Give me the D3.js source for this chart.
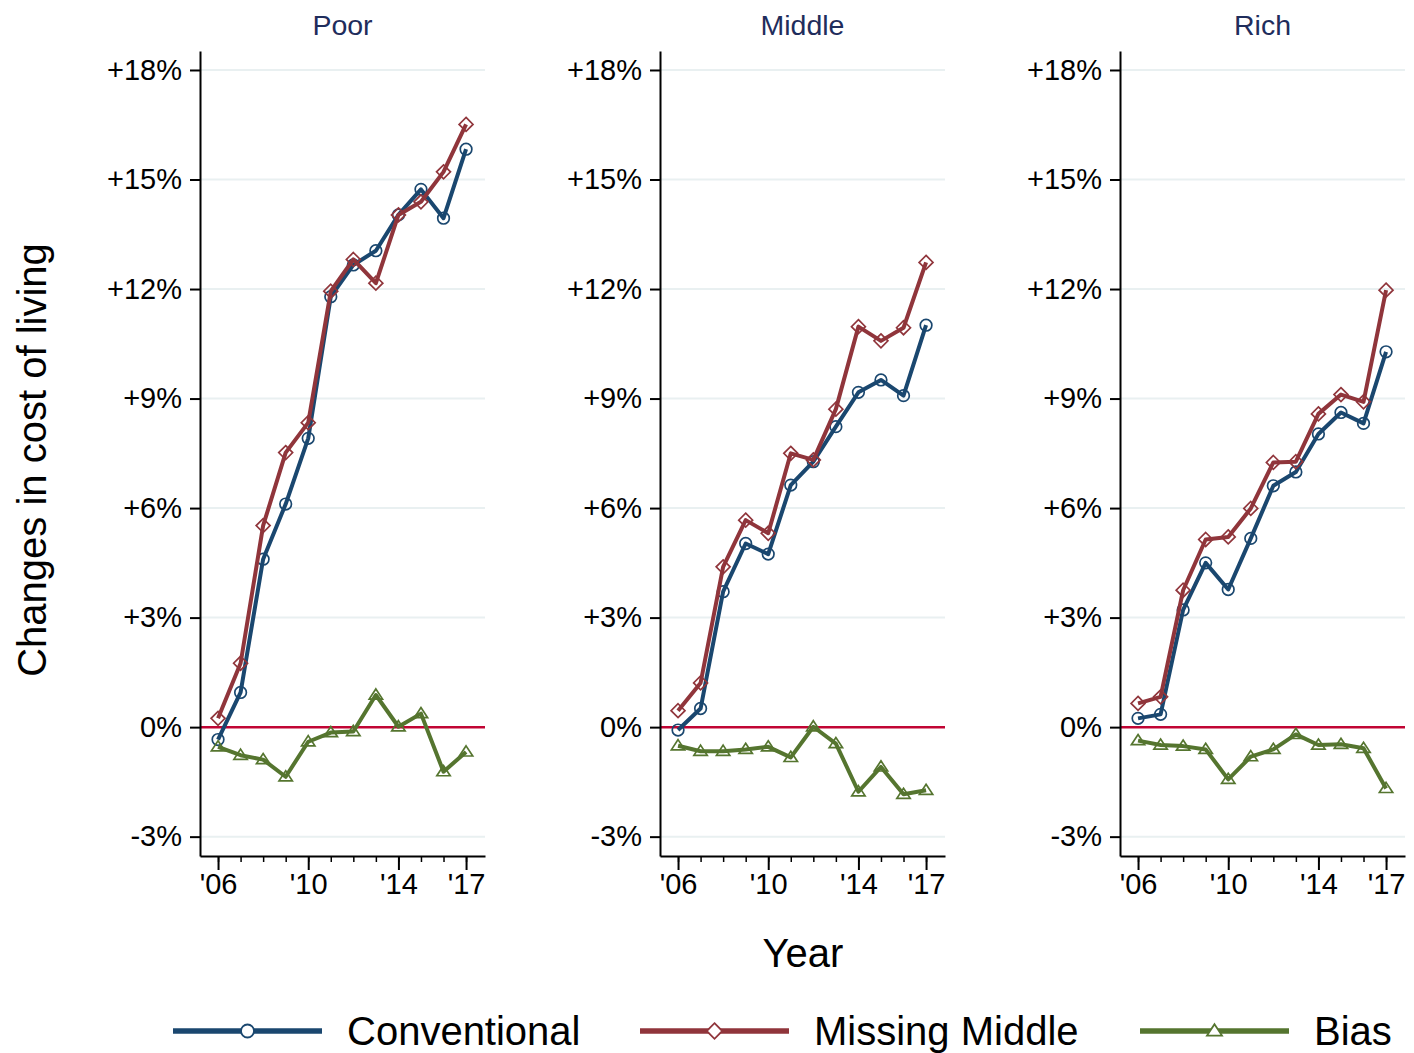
<!DOCTYPE html>
<html>
<head>
<meta charset="utf-8">
<script src="https://cdn.jsdelivr.net/npm/d3@7"></script>
<style>
  html, body { margin: 0; padding: 0; background: #ffffff; }
  svg { display: block; font-family: "Liberation Sans", Arial, Helvetica, sans-serif; }
</style>
</head>
<body>
<svg id="chart" width="1414" height="1053"></svg>
<script>
// Years on the x axis
const years = [2006, 2007, 2008, 2009, 2010, 2011, 2012, 2013, 2014, 2015, 2016, 2017];

// Panel names (income groups)
const groups = ["Poor", "Middle", "Rich"];

// Cumulative change in cost of living (%), by income group
const poorConventional = [-0.34, 0.95, 4.60, 6.11, 7.91, 11.79, 12.66, 13.05, 14.03, 14.73, 13.94, 15.83];
const poorMissingMiddle = [0.24, 1.75, 5.52, 7.52, 8.34, 11.94, 12.81, 12.16, 14.03, 14.39, 15.21, 16.51];
const poorBias = [-0.54, -0.77, -0.89, -1.36, -0.40, -0.15, -0.12, 0.88, 0.01, 0.37, -1.22, -0.68];

const middleConventional = [-0.08, 0.51, 3.71, 5.03, 4.74, 6.63, 7.27, 8.23, 9.17, 9.51, 9.08, 11.01];
const middleMissingMiddle = [0.45, 1.21, 4.39, 5.67, 5.31, 7.50, 7.32, 8.71, 10.97, 10.58, 10.94, 12.73];
const middleBias = [-0.51, -0.66, -0.66, -0.61, -0.54, -0.83, 0.01, -0.45, -1.77, -1.09, -1.84, -1.73];

const richConventional = [0.24, 0.35, 3.21, 4.50, 3.77, 5.17, 6.61, 6.99, 8.03, 8.62, 8.32, 10.28];
const richMissingMiddle = [0.65, 0.83, 3.75, 5.14, 5.21, 5.99, 7.25, 7.27, 8.58, 9.11, 8.91, 11.97];
const richBias = [-0.37, -0.49, -0.52, -0.61, -1.43, -0.81, -0.61, -0.20, -0.49, -0.47, -0.58, -1.68];

// Series names and axis ticks
const seriesNames = ["Conventional", "Missing Middle", "Bias"];
const yTicks = [-3, 0, 3, 6, 9, 12, 15, 18];
const xMajorTicks = [2006, 2010, 2014, 2017];

const panelData = [
  [poorConventional, poorMissingMiddle, poorBias],
  [middleConventional, middleMissingMiddle, middleBias],
  [richConventional, richMissingMiddle, richBias]
];

// Styling
const seriesColors = ["#1a476f", "#90353b", "#55752f"];
const markerTypes = ["circle", "diamond", "triangle"];
const gridColor = "#e9f0f1";
const zeroColor = "#c10534";
const titleColor = "#1f2d5c";
const fontMain = 29;

const svg = d3.select("#chart");

// Layout
const panelLeft = [200, 660, 1120];
const panelWidth = 285;
const plotTop = 51, plotBottom = 856;

const y = d3.scaleLinear().domain([-3.53, 18.52]).range([plotBottom, plotTop]);

function markerPath(type, size) {
  if (type === "circle") return d3.symbol().type(d3.symbolCircle).size(Math.PI * size * size)();
  if (type === "diamond") {
    const s = size * 1.2;
    return `M0,${-s}L${s},0L0,${s}L${-s},0Z`;
  }
  const h = size * 1.75, w = size * 1.15;
  return `M0,${-h * 0.6}L${w},${h * 0.4}L${-w},${h * 0.4}Z`;
}

const fmtY = v => (v > 0 ? "+" : "") + v + "%";
const fmtX = v => "'" + String(v).slice(2);

groups.forEach((name, gi) => {
  const left = panelLeft[gi];
  const x = d3.scaleLinear().domain([2005.2, 2017.84]).range([left, left + panelWidth]);
  const g = svg.append("g");

  // gridlines
  g.append("g").selectAll("line")
    .data(yTicks.filter(v => v !== 0))
    .join("line")
    .attr("x1", left).attr("x2", left + panelWidth)
    .attr("y1", d => y(d)).attr("y2", d => y(d))
    .attr("stroke", gridColor).attr("stroke-width", 2);

  // zero reference line
  g.append("line")
    .attr("x1", left).attr("x2", left + panelWidth)
    .attr("y1", y(0)).attr("y2", y(0))
    .attr("stroke", zeroColor).attr("stroke-width", 2.5);

  // y axis
  const yAxis = g.append("g")
    .attr("transform", `translate(${left},0)`)
    .call(d3.axisLeft(y).tickValues(yTicks).tickFormat(fmtY).tickSize(10).tickSizeOuter(0).tickPadding(8));
  yAxis.select(".domain").attr("stroke", "#000").attr("stroke-width", 2);
  yAxis.selectAll(".tick line").attr("stroke", "#000").attr("stroke-width", 2);
  yAxis.selectAll(".tick text").attr("font-size", fontMain).attr("fill", "#000")
    .attr("font-family", '"Liberation Sans", Arial, sans-serif');

  // x axis: minor yearly ticks
  const xMinor = g.append("g")
    .attr("transform", `translate(0,${plotBottom})`)
    .call(d3.axisBottom(x).tickValues(years).tickFormat("").tickSize(6).tickSizeOuter(0));
  xMinor.select(".domain").remove();
  xMinor.selectAll(".tick line").attr("stroke", "#000").attr("stroke-width", 1.5);

  // x axis: major labelled ticks
  const xAxis = g.append("g")
    .attr("transform", `translate(0,${plotBottom})`)
    .call(d3.axisBottom(x).tickValues(xMajorTicks).tickFormat(fmtX).tickSize(14).tickSizeOuter(0).tickPadding(3));
  xAxis.select(".domain").attr("stroke", "#000").attr("stroke-width", 2);
  xAxis.selectAll(".tick line").attr("stroke", "#000").attr("stroke-width", 2);
  xAxis.selectAll(".tick text").attr("font-size", fontMain).attr("fill", "#000")
    .attr("font-family", '"Liberation Sans", Arial, sans-serif');

  // panel title
  g.append("text")
    .attr("x", left + panelWidth / 2).attr("y", 35)
    .attr("text-anchor", "middle")
    .attr("font-size", 28.5).attr("fill", titleColor)
    .text(name);

  // series lines + markers
  const line = d3.line().x((d, i) => x(years[i])).y(d => y(d));
  panelData[gi].forEach((vals, si) => {
    g.append("path")
      .datum(vals)
      .attr("d", line)
      .attr("fill", "none")
      .attr("stroke", seriesColors[si])
      .attr("stroke-width", 4)
      .attr("stroke-linejoin", "round");
    g.append("g").selectAll("path")
      .data(vals)
      .join("path")
      .attr("transform", (d, i) => `translate(${x(years[i])},${y(d)})`)
      .attr("d", markerPath(markerTypes[si], 5.8))
      .attr("fill", "none")
      .attr("stroke", seriesColors[si])
      .attr("stroke-width", 1.7);
  });
});

// axis titles
svg.append("text")
  .attr("transform", "translate(46,460) rotate(-90)")
  .attr("text-anchor", "middle")
  .attr("font-size", 40).attr("fill", "#000")
  .text("Changes in cost of living");

svg.append("text")
  .attr("x", 803).attr("y", 967)
  .attr("text-anchor", "middle")
  .attr("font-size", 40).attr("fill", "#000")
  .text("Year");

// legend
const legendLineStart = [173, 640, 1140];
const legendY = 1031;
seriesNames.forEach((name, si) => {
  const lx = legendLineStart[si];
  const lg = svg.append("g");
  lg.append("line")
    .attr("x1", lx).attr("x2", lx + 149)
    .attr("y1", legendY).attr("y2", legendY)
    .attr("stroke", seriesColors[si]).attr("stroke-width", 5.5);
  lg.append("path")
    .attr("transform", `translate(${lx + 74.5},${legendY})`)
    .attr("d", markerPath(markerTypes[si], 6.5))
    .attr("fill", "#fff")
    .attr("stroke", seriesColors[si])
    .attr("stroke-width", 1.8);
  lg.append("text")
    .attr("x", lx + 174).attr("y", legendY + 14)
    .attr("font-size", 40).attr("fill", "#000")
    .text(name);
});
</script>
</body>
</html>
